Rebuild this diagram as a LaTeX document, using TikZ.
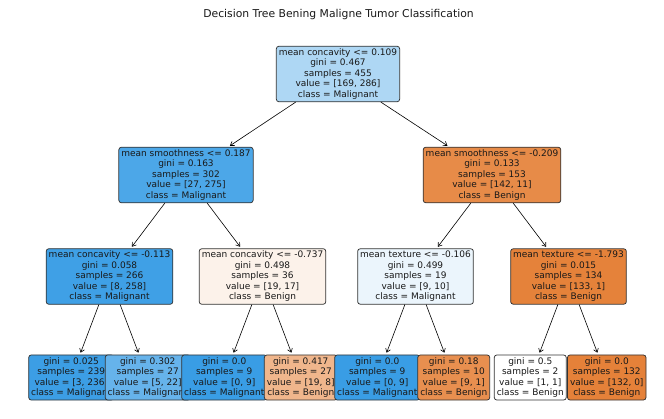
\documentclass[tikz,border=0pt]{standalone}
\usepackage{fontspec}
\setmainfont{DejaVu Sans}
\usetikzlibrary{arrows.meta}
\definecolor{cRoot}{RGB}{174,215,244}
\definecolor{cA}{RGB}{76,167,232}
\definecolor{cB}{RGB}{231,139,72}
\definecolor{cC}{RGB}{63,160,230}
\definecolor{cD}{RGB}{252,242,234}
\definecolor{cE}{RGB}{235,245,252}
\definecolor{cF}{RGB}{229,130,58}
\definecolor{lfA}{RGB}{60,158,229}
\definecolor{lfB}{RGB}{102,179,235}
\definecolor{lfC}{RGB}{57,157,229}
\definecolor{lfD}{RGB}{240,182,140}
\definecolor{lfF}{RGB}{232,143,79}
\definecolor{lfH}{RGB}{229,129,57}
\tikzset{
  tn/.style={draw=black!80, line width=0.75pt, rounded corners=2.5pt, align=center,
    inner xsep=2.5pt, inner ysep=2.4pt, font=\fontsize{9}{10.5}\selectfont, text=black!90},
  arr/.style={-{Straight Barb[length=3.6pt,width=5pt]}, line width=0.6pt, shorten >=2pt},
  ttl/.style={font=\fontsize{10.8}{13}\selectfont, text=black!90}
}
\begin{document}
\begin{tikzpicture}[x=1pt,y=-1pt]
\useasboundingbox (0,0) rectangle (664,419);
\node[ttl] (title) at (338.5,15) {Decision Tree Bening Maligne Tumor Classification};
\node[tn, fill=cRoot] (root) at (338,74) {mean concavity <= 0.109\\gini = 0.467\\samples = 455\\value = [169, 286]\\class = Malignant};
\node[tn, fill=cA] (n1) at (186,175) {mean smoothness <= 0.187\\gini = 0.163\\samples = 302\\value = [27, 275]\\class = Malignant};
\node[tn, fill=cC] (n2) at (109.5,276.5) {mean concavity <= -0.113\\gini = 0.058\\samples = 266\\value = [8, 258]\\class = Malignant};
\node[tn, fill=lfA] (l1) at (71.25,377.5) {gini = 0.025\\samples = 239\\value = [3, 236]\\class = Malignant};
\node[tn, fill=lfB] (l2) at (147.75,377.5) {gini = 0.302\\samples = 27\\value = [5, 22]\\class = Malignant};
\node[tn, fill=cD] (n3) at (262.5,276.5) {mean concavity <= -0.737\\gini = 0.498\\samples = 36\\value = [19, 17]\\class = Benign};
\node[tn, fill=lfC] (l3) at (224.25,377.5) {gini = 0.0\\samples = 9\\value = [0, 9]\\class = Malignant};
\node[tn, fill=lfD] (l4) at (300.75,377.5) {gini = 0.417\\samples = 27\\value = [19, 8]\\class = Benign};
\node[tn, fill=cB] (n4) at (492,175) {mean smoothness <= -0.209\\gini = 0.133\\samples = 153\\value = [142, 11]\\class = Benign};
\node[tn, fill=cE] (n5) at (415.5,276.5) {mean texture <= -0.106\\gini = 0.499\\samples = 19\\value = [9, 10]\\class = Malignant};
\node[tn, fill=lfC] (l5) at (377.25,377.5) {gini = 0.0\\samples = 9\\value = [0, 9]\\class = Malignant};
\node[tn, fill=lfF] (l6) at (453.75,377.5) {gini = 0.18\\samples = 10\\value = [9, 1]\\class = Benign};
\node[tn, fill=cF] (n6) at (568.5,276.5) {mean texture <= -1.793\\gini = 0.015\\samples = 134\\value = [133, 1]\\class = Benign};
\node[tn, fill=white] (l7) at (530.25,377.5) {gini = 0.5\\samples = 2\\value = [1, 1]\\class = Benign};
\node[tn, fill=lfH] (l8) at (606.75,377.5) {gini = 0.0\\samples = 132\\value = [132, 0]\\class = Benign};
\draw[arr] (root) -- (n1);
\draw[arr] (root) -- (n4);
\draw[arr] (n1) -- (n2);
\draw[arr] (n1) -- (n3);
\draw[arr] (n2) -- (l1);
\draw[arr] (n2) -- (l2);
\draw[arr] (n3) -- (l3);
\draw[arr] (n3) -- (l4);
\draw[arr] (n4) -- (n5);
\draw[arr] (n4) -- (n6);
\draw[arr] (n5) -- (l5);
\draw[arr] (n5) -- (l6);
\draw[arr] (n6) -- (l7);
\draw[arr] (n6) -- (l8);
\end{tikzpicture}
\end{document}
